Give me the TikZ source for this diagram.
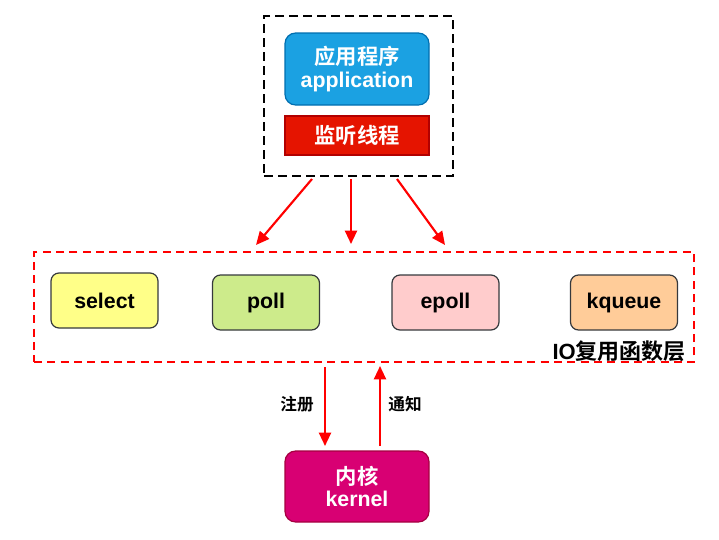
\documentclass[tikz,border=0pt]{standalone}
\usepackage{fontspec}
\setmainfont{Liberation Sans}
\newfontfamily\cjk{Noto Sans CJK SC}[BoldFont={* Bold}]
\usetikzlibrary{arrows.meta,calc}
\definecolor{cblue}{HTML}{1BA1E2}\definecolor{cbluel}{HTML}{006EAF}
\definecolor{cred}{HTML}{E51400}\definecolor{credl}{HTML}{B20000}
\definecolor{cmag}{HTML}{D80073}\definecolor{cmagl}{HTML}{A50040}
\definecolor{cyel}{HTML}{FFFF88}\definecolor{cgrn}{HTML}{CDEB8B}
\definecolor{cpnk}{HTML}{FFCCCC}\definecolor{corg}{HTML}{FFCC99}
\definecolor{cgl}{HTML}{36393D}
\newlength{\unitpx}\setlength{\unitpx}{0.75pt}
\tikzset{
  fn/.style={draw=cgl, line width=0.9pt, rounded corners=6pt, minimum width=107\unitpx, minimum height=55\unitpx, inner sep=0pt, font=\fontsize{16}{18}\selectfont\bfseries},
  big/.style={line width=0.9pt, minimum width=144\unitpx, inner sep=0pt, text=white, align=center, font=\fontsize{16}{19}\selectfont\bfseries},
  redarr/.style={draw=red, line width=1.6pt, -{Triangle[length=10pt,width=9pt]}},
  lbl/.style={font=\cjk\bfseries\fontsize{12.5}{14}\selectfont, inner sep=0pt}
}
\begin{document}
\begin{tikzpicture}[x=0.75pt,y=-0.75pt]
\useasboundingbox (0,0) rectangle (719,540);
% outer black dashed box
\node[draw=black, line width=1.6pt, dash pattern=on 6.5pt off 4pt, minimum width=189\unitpx, minimum height=160\unitpx, inner sep=0pt] (outer) at (358.5,96) {};
\node[big, fill=cblue, draw=cbluel, rounded corners=8pt, minimum height=72\unitpx] (app) at (357,69) {{\cjk 应用程序}\\[-2pt]application};
\node[big, fill=cred, draw=credl, minimum height=39\unitpx, font=\cjk\bfseries\fontsize{16}{19}\selectfont] (listen) at (357,135.5) {监听线程};
% IO layer
\node[draw=red, line width=1.6pt, dash pattern=on 6pt off 4pt, minimum width=660\unitpx, minimum height=110\unitpx, inner sep=0pt] (io) at (364,307) {};
\node[fn, fill=cyel] (select) at (104.5,300.5) {select};
\node[fn, fill=cgrn] (poll) at (266,302.5) {poll};
\node[fn, fill=cpnk] (epoll) at (445.5,302.5) {epoll};
\node[fn, fill=corg] (kqueue) at (624,302.5) {kqueue};
\node[font=\bfseries\fontsize{16.5}{18}\selectfont, inner sep=0pt, anchor=east] (iolbl) at (686,351) {IO{\cjk 复用函数层}};
% kernel
\node[big, fill=cmag, draw=cmagl, rounded corners=8pt, minimum height=71\unitpx] (kernel) at (357,486.5) {{\cjk 内核}\\[-3pt]kernel};
% arrows from top box
\coordinate (s1) at (312,179); \coordinate (e1) at (256,245);
\coordinate (s2) at (351,179); \coordinate (e2) at (351,244);
\coordinate (s3) at (397,179); \coordinate (e3) at (445,245);
\draw[redarr] (s1) -- (e1);
\draw[redarr] (s2) -- (e2);
\draw[redarr] (s3) -- (e3);
% register / notify
\coordinate (rs) at (325,367); \coordinate (re) at (325,446);
\coordinate (ns) at (380,446); \coordinate (ne) at (380,366);
\draw[redarr] (rs) -- (re);
\draw[redarr] (ns) -- (ne);
\node[lbl] (reg) at (297,404) {注册};
\node[lbl] (ntf) at (405,404) {通知};
\end{tikzpicture}
\end{document}
